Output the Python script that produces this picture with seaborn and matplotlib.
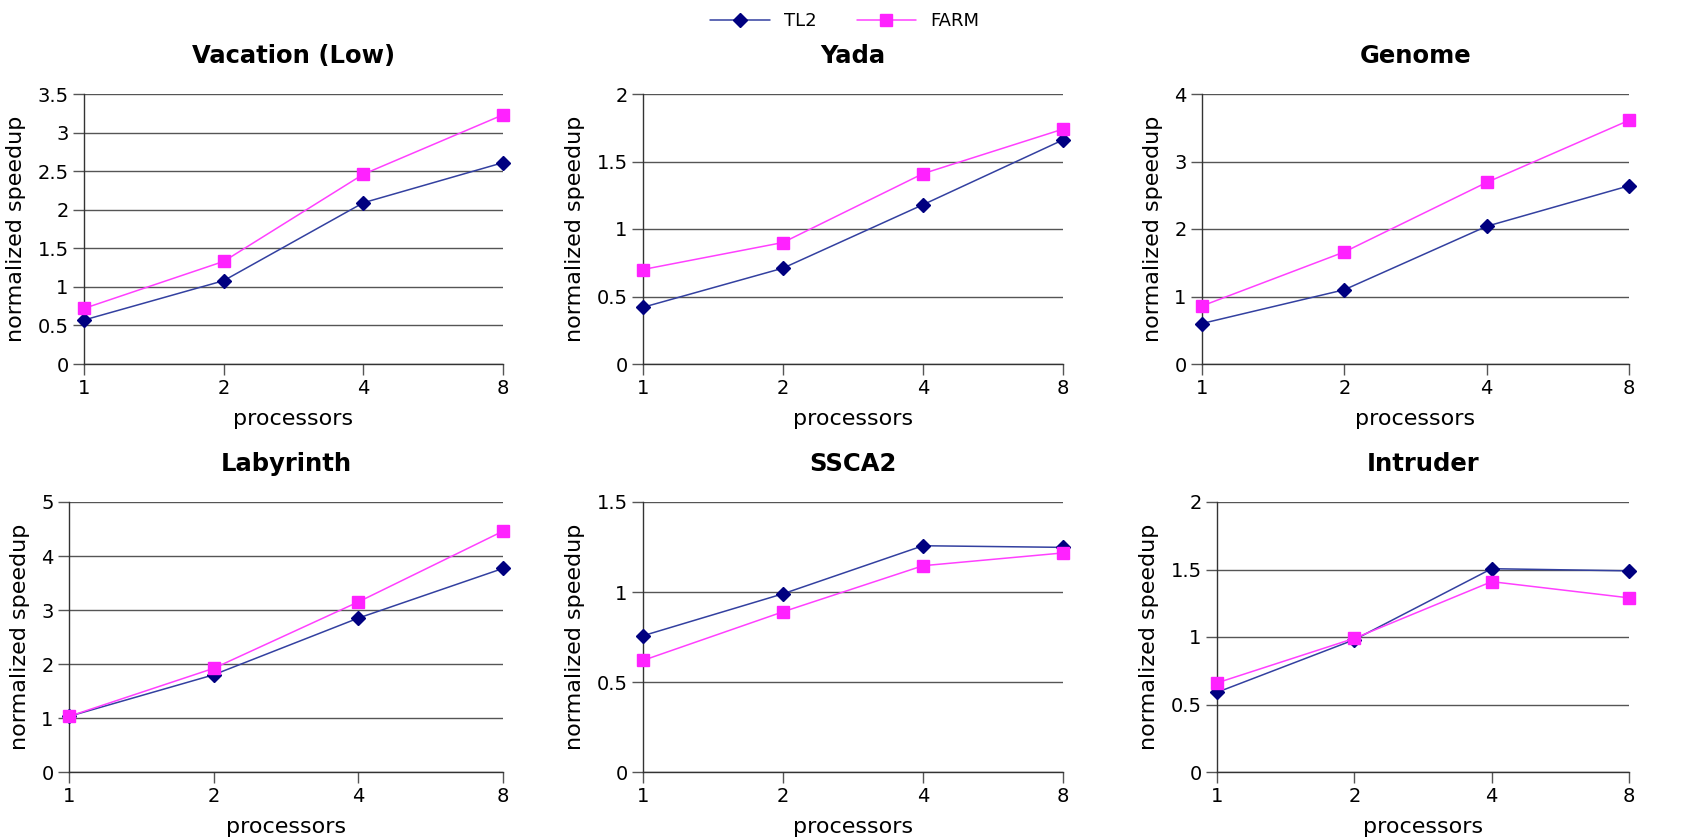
import numpy as np
import pandas as pd
import matplotlib
matplotlib.use("Agg")
import matplotlib.pyplot as plt
import seaborn as sns

processors = ["1", "2", "4", "8"]
series_names = ["TL2", "FARM"]

titles = ["Vacation (Low)", "Yada", "Genome", "Labyrinth", "SSCA2", "Intruder"]

vacation_tl2 = [0.57, 1.08, 2.09, 2.61]
vacation_farm = [0.72, 1.33, 2.46, 3.23]
yada_tl2 = [0.42, 0.71, 1.18, 1.66]
yada_farm = [0.70, 0.90, 1.41, 1.74]
genome_tl2 = [0.60, 1.10, 2.04, 2.64]
genome_farm = [0.86, 1.66, 2.69, 3.61]
labyrinth_tl2 = [1.03, 1.80, 2.85, 3.77]
labyrinth_farm = [1.03, 1.92, 3.15, 4.46]
ssca2_tl2 = [0.757, 0.99, 1.257, 1.248]
ssca2_farm = [0.62, 0.89, 1.146, 1.217]
intruder_tl2 = [0.59, 0.98, 1.506, 1.49]
intruder_farm = [0.66, 0.99, 1.41, 1.29]

y_max = [3.5, 2, 4, 5, 1.5, 2]
y_step = [0.5, 0.5, 1, 1, 0.5, 0.5]

panels = [
    (vacation_tl2, vacation_farm),
    (yada_tl2, yada_farm),
    (genome_tl2, genome_farm),
    (labyrinth_tl2, labyrinth_farm),
    (ssca2_tl2, ssca2_farm),
    (intruder_tl2, intruder_farm),
]

# axes boxes in pixels (left, right, top, bottom) on a 1690x840 canvas
boxes = [
    (84, 503, 94, 364), (643, 1063, 94, 364), (1202, 1629, 94, 364),
    (69, 503, 502, 772), (643, 1063, 502, 772), (1217, 1629, 502, 772),
]

sns.set_style("white")
plt.rcParams["font.family"] = ["DejaVu Sans"]
plt.rcParams["text.color"] = "black"
plt.rcParams["axes.labelcolor"] = "black"
plt.rcParams["xtick.color"] = "black"
plt.rcParams["ytick.color"] = "black"

W, H = 1690, 840
fig = plt.figure(figsize=(W / 100, H / 100), dpi=100)

styles = {
    "TL2": dict(color="#3340a0", marker="D", markersize=7,
                markerfacecolor="#000080", markeredgecolor="#000080"),
    "FARM": dict(color="#ff40ff", marker="s", markersize=9,
                 markerfacecolor="#ff22ff", markeredgecolor="#ff22ff"),
}

handles = []
for i, (title, (tl2, farm)) in enumerate(zip(titles, panels)):
    l, r, t, b = boxes[i]
    ax = fig.add_axes([l / W, 1 - b / H, (r - l) / W, (b - t) / H])
    df = pd.DataFrame({
        "processors": processors * 2,
        "speedup": tl2 + farm,
        "series": ["TL2"] * 4 + ["FARM"] * 4,
    })
    for name in series_names:
        sub = df[df["series"] == name]
        sns.lineplot(data=sub, x="processors", y="speedup", ax=ax,
                     linewidth=1.1, markeredgewidth=1, label=name,
                     legend=False, clip_on=False, zorder=3, **styles[name])
    ax.set_xlim(0, 3)
    ax.set_ylim(0, y_max[i])
    ax.set_yticks(np.arange(0, y_max[i] + 1e-9, y_step[i]))
    ax.yaxis.set_major_formatter(matplotlib.ticker.FuncFormatter(
        lambda v, p: f"{v:g}"))
    ax.yaxis.grid(True, color="#555555", linewidth=1.0)
    ax.set_axisbelow(True)
    for s in ["top", "right"]:
        ax.spines[s].set_visible(False)
    for s in ["left", "bottom"]:
        ax.spines[s].set_color("#333333")
        ax.spines[s].set_linewidth(1.0)
    ax.tick_params(axis="both", direction="out", length=8, width=1,
                   color="#555555", labelsize=14, left=True, bottom=True,
                   pad=3)
    ax.set_title(title, fontsize=17.5, fontweight="bold", pad=22)
    ax.set_xlabel("processors", fontsize=16, labelpad=8)
    ax.set_ylabel("normalized speedup", fontsize=16, labelpad=8)
    if i == 0:
        handles = ax.get_lines()[:2]

fig.legend(handles, series_names, loc="upper center", ncol=2,
           bbox_to_anchor=(0.5, 1.005), frameon=False, fontsize=13,
           handlelength=3.3, columnspacing=2.2)

fig.savefig("out.png", dpi=100, facecolor="white")
